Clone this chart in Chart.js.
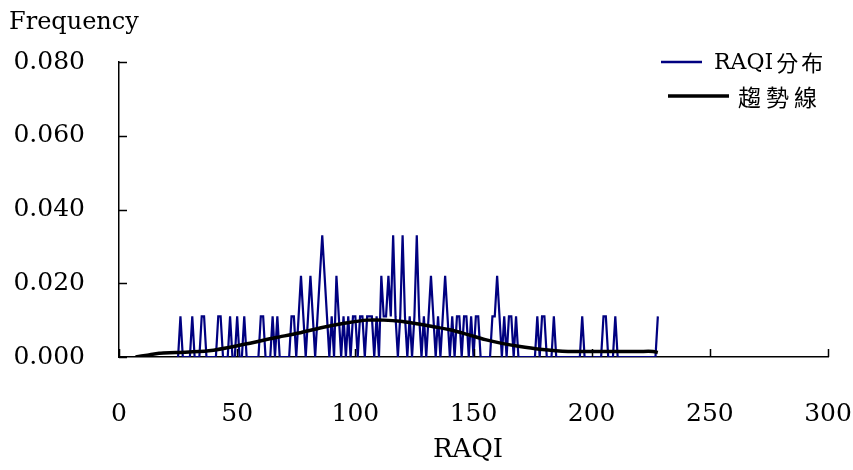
<!DOCTYPE html>
<html>
<head>
<meta charset="utf-8">
<script src="https://cdn.jsdelivr.net/npm/chart.js@4"></script>
<style>
  html, body { margin: 0; padding: 0; background: #fff; }
  #wrap { width: 853px; height: 470px; }
</style>
</head>
<body>
<div id="wrap"><canvas id="chart" width="853" height="470"></canvas></div>
<script>
// ===== DATA =====
const raqiStart = 25;            // first RAQI value of the blue series, step 1
const raqiFreq = [
  0,
  0.011, 0, 0, 0, 0, 0.011, 0, 0, 0, 0.011,               // 26-35
  0.011, 0, 0, 0, 0, 0, 0.011, 0.011, 0, 0,               // 36-45
  0, 0.011, 0, 0, 0.011, 0, 0, 0.011, 0, 0,               // 46-55
  0, 0, 0, 0, 0.011, 0.011, 0, 0, 0, 0.011,               // 56-65
  0, 0.011, 0, 0, 0, 0, 0, 0.011, 0.011, 0,               // 66-75
  0.011, 0.022, 0.011, 0, 0.011, 0.022, 0.011, 0, 0.011, 0.022,   // 76-85
  0.033, 0.022, 0.011, 0, 0.011, 0, 0.022, 0.011, 0, 0.011,       // 86-95
  0, 0.011, 0, 0.011, 0.011, 0, 0.011, 0.011, 0, 0.011,           // 96-105
  0.011, 0.011, 0, 0.011, 0, 0.022, 0.011, 0.011, 0.022, 0.011,   // 106-115
  0.033, 0.011, 0, 0.011, 0.033, 0.011, 0, 0.011, 0, 0.011,       // 116-125
  0.033, 0.011, 0, 0.011, 0, 0.011, 0.022, 0.011, 0, 0.011,       // 126-135
  0, 0.011, 0.022, 0.011, 0, 0.011, 0, 0.011, 0.011, 0,           // 136-145
  0.011, 0.011, 0, 0.011, 0, 0.011, 0.011, 0, 0, 0,               // 146-155
  0, 0, 0.011, 0.011, 0.022, 0.011, 0, 0.011, 0, 0.011,           // 156-165
  0.011, 0, 0.011, 0, 0, 0, 0, 0, 0, 0,                           // 166-175
  0, 0.011, 0, 0.011, 0.011, 0, 0, 0, 0.011, 0,                   // 176-185
  0, 0, 0, 0, 0, 0, 0, 0, 0, 0,                                   // 186-195
  0.011, 0, 0, 0, 0, 0, 0, 0, 0, 0.011,                           // 196-205
  0.011, 0, 0, 0, 0.011, 0, 0, 0, 0, 0,                           // 206-215
  0, 0, 0, 0, 0, 0, 0, 0, 0, 0,                                   // 216-225
  0, 0, 0.011                                                     // 226-228
];

const trendX = [7, 12, 17, 24, 38, 52, 66, 76, 86, 96, 105, 112, 119, 126, 133, 140,
                148, 155, 162, 169, 178, 190, 205, 220, 226, 228];
const trendY = [0, 0.0005, 0.001, 0.0012, 0.0017, 0.0033, 0.0052, 0.0065, 0.0080, 0.0092,
                0.0100, 0.0100, 0.0097, 0.0090, 0.0082, 0.0074, 0.0060, 0.0047, 0.0037,
                0.0029, 0.0021, 0.0015, 0.0015, 0.0015, 0.0015, 0.0012];

const xTicks = [0, 50, 100, 150, 200, 250, 300];
const yTicks = [0, 0.02, 0.04, 0.06, 0.08];

const seriesNames = ["RAQI分布", "趨勢線"];
const yTitle = "Frequency";
const xTitle = "RAQI";

// ===== STYLE =====
const SERIF = "'DejaVu Serif', 'Liberation Serif', serif";
const CJK = "'Noto Sans CJK TC', 'Noto Sans CJK SC', sans-serif";
const BLUE = "#000080";

// ===== DECOR: inward ticks, titles, legend =====
const decor = {
  id: "decor",
  afterDraw(chart) {
    const ctx = chart.ctx;
    const xs = chart.scales.x, ys = chart.scales.y;
    const area = chart.chartArea;
    ctx.save();
    ctx.strokeStyle = "#000";
    ctx.lineWidth = 1.5;
    ctx.beginPath();
    yTicks.forEach(v => {
      const py = Math.round(ys.getPixelForValue(v)) + 0.5;
      ctx.moveTo(area.left, py);
      ctx.lineTo(area.left + 8, py);
    });
    xTicks.forEach(v => {
      const px = Math.round(xs.getPixelForValue(v)) + 0.5;
      ctx.moveTo(px, area.bottom);
      ctx.lineTo(px, area.bottom - 8);
    });
    ctx.stroke();

    ctx.fillStyle = "#000";
    ctx.textBaseline = "middle";
    ctx.font = "24px " + SERIF;
    ctx.textAlign = "left";
    ctx.fillText(yTitle, 9, 23);
    ctx.font = "26px " + SERIF;
    ctx.textAlign = "center";
    ctx.fillText(xTitle, 468, 450);

    // legend
    ctx.lineWidth = 2.5;
    ctx.strokeStyle = BLUE;
    ctx.beginPath(); ctx.moveTo(661, 62); ctx.lineTo(702, 62); ctx.stroke();
    ctx.lineWidth = 3.5;
    ctx.strokeStyle = "#000";
    ctx.beginPath(); ctx.moveTo(668, 96); ctx.lineTo(729, 96); ctx.stroke();
    ctx.textAlign = "left";
    ctx.font = "22px " + SERIF;
    ctx.fillText("RAQI", 714, 63);
    const w = ctx.measureText("RAQI").width;
    ctx.font = "22px " + CJK;
    ctx.letterSpacing = "3px";
    ctx.fillText(seriesNames[0].slice(4), 714 + w + 3, 63);
    ctx.font = "23px " + CJK;
    ctx.letterSpacing = "5px";
    ctx.fillText(seriesNames[1], 738, 97);
    ctx.restore();
  }
};

const blueData = raqiFreq.map((v, i) => ({ x: raqiStart + i, y: v }));
const trendData = trendX.map((x, i) => ({ x: x, y: trendY[i] }));

new Chart(document.getElementById("chart"), {
  type: "line",
  data: {
    datasets: [
      {
        label: seriesNames[1],
        data: trendData,
        borderColor: "#000",
        borderWidth: 3.5,
        pointRadius: 0,
        tension: 0.3,
        order: 0
      },
      {
        label: seriesNames[0],
        data: blueData,
        borderColor: BLUE,
        borderWidth: 2.2,
        pointRadius: 0,
        tension: 0,
        order: 1
      }
    ]
  },
  options: {
    responsive: false,
    animation: false,
    layout: { padding: { top: 62, right: 25, left: 0, bottom: 0 } },
    plugins: { legend: { display: false }, tooltip: { enabled: false } },
    scales: {
      x: {
        type: "linear",
        min: 0, max: 300,
        afterFit(scale) {
          scale.height = 113;
          scale.paddingLeft = 0;
          scale.paddingRight = 0;
        },
        afterBuildTicks(scale) { scale.ticks = xTicks.map(v => ({ value: v })); },
        grid: { display: false, drawTicks: false },
        border: { display: true, color: "#000", width: 1.5 },
        ticks: {
          padding: 42,
          color: "#000",
          font: { family: SERIF, size: 25 },
          maxRotation: 0
        }
      },
      y: {
        min: 0, max: 0.08,
        afterFit(scale) {
          scale.width = 119;
          scale.paddingTop = 0;
          scale.paddingBottom = 0;
        },
        afterBuildTicks(scale) { scale.ticks = yTicks.map(v => ({ value: v })); },
        grid: { display: false, drawTicks: false },
        border: { display: true, color: "#000", width: 1.5 },
        ticks: {
          padding: 34,
          color: "#000",
          font: { family: SERIF, size: 25 },
          callback: v => v.toFixed(3)
        }
      }
    }
  },
  plugins: [decor]
});
</script>
</body>
</html>
